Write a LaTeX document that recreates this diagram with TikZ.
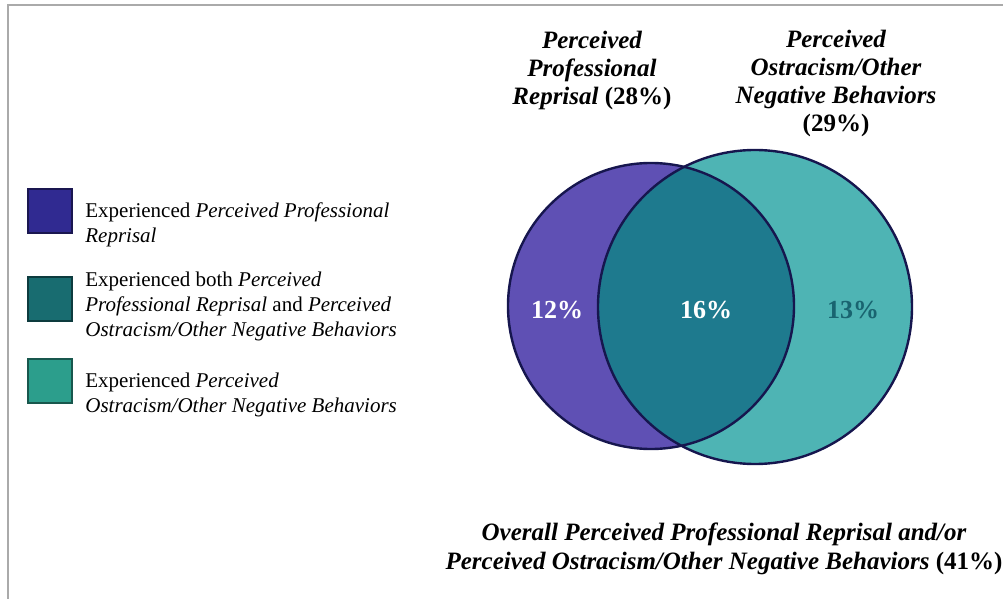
\documentclass[tikz,border=0pt]{standalone}
\usepackage{fontspec}
\setmainfont{Liberation Serif}
\definecolor{reprisal}{RGB}{95,80,180}
\definecolor{ostracism}{RGB}{78,180,180}
\definecolor{bothsets}{RGB}{30,122,142}
\definecolor{rimline}{RGB}{22,22,78}
\definecolor{framegray}{RGB}{170,170,170}
\definecolor{darkteal}{RGB}{25,100,112}
\definecolor{keyone}{RGB}{48,42,145}
\definecolor{keytwo}{RGB}{24,108,112}
\definecolor{keythree}{RGB}{44,158,140}
\begin{document}
\begin{tikzpicture}[x=0.5pt, y=-0.5pt,
  keybox/.style={draw=#1!55!black, line width=1.2pt, fill=#1, minimum size=22pt, inner sep=0pt},
  keytext/.style={anchor=west, align=left, inner sep=0pt, font=\fontsize{10.5}{12.5}\selectfont},
  headtext/.style={align=center, inner sep=0pt, font=\fontsize{12.5}{14}\selectfont\bfseries\itshape},
  pct/.style={inner sep=0pt, font=\fontsize{13}{14}\selectfont\bfseries}]
  \useasboundingbox (0,0) rectangle (1003,599);
  % frame
  \draw[framegray, line width=1pt] (8,599) -- (8,5) -- (1003,5);

  % circles
  \coordinate (pr) at (651,306);
  \coordinate (po) at (755,307);
  \fill[reprisal] (pr) circle[radius=143];
  \fill[ostracism] (po) circle[radius=157];
  \begin{scope}
    \clip (pr) circle[radius=143];
    \fill[bothsets] (po) circle[radius=157];
  \end{scope}
  \draw[rimline, line width=1.2pt] (pr) circle[radius=143];
  \draw[rimline, line width=1.2pt] (po) circle[radius=157];

  \node[pct, white] (only-pr) at (557,310) {12\%};
  \node[pct, white] (both) at (706,310) {16\%};
  \node[pct, darkteal] (only-po) at (853,310) {13\%};

  % headings
  \node[headtext] (head-pr) at (592,70) {Perceived\\Professional\\Reprisal \textup{(28\%)}};
  \node[headtext] (head-po) at (836,83) {Perceived\\Ostracism/Other\\Negative Behaviors\\\textup{(29\%)}};
  \node[headtext, font=\fontsize{12.5}{14.5}\selectfont\bfseries\itshape] (overall) at (724,549)
    {Overall Perceived Professional Reprisal and/or\\Perceived Ostracism/Other Negative Behaviors \textup{(41\%)}};

  % key
  \node[keybox=keyone] (key-pr) at (50,211) {};
  \node[keybox=keytwo] (key-both) at (50,299) {};
  \node[keybox=keythree] (key-po) at (50,381) {};
  \node[keytext] (txt-pr) at (85,225) {Experienced \textit{Perceived Professional}\\\textit{Reprisal}};
  \node[keytext] (txt-both) at (85,306) {Experienced both \textit{Perceived}\\\textit{Professional Reprisal} and \textit{Perceived}\\\textit{Ostracism/Other Negative Behaviors}};
  \node[keytext] (txt-po) at (85,395) {Experienced \textit{Perceived}\\\textit{Ostracism/Other Negative Behaviors}};
\end{tikzpicture}
\end{document}
